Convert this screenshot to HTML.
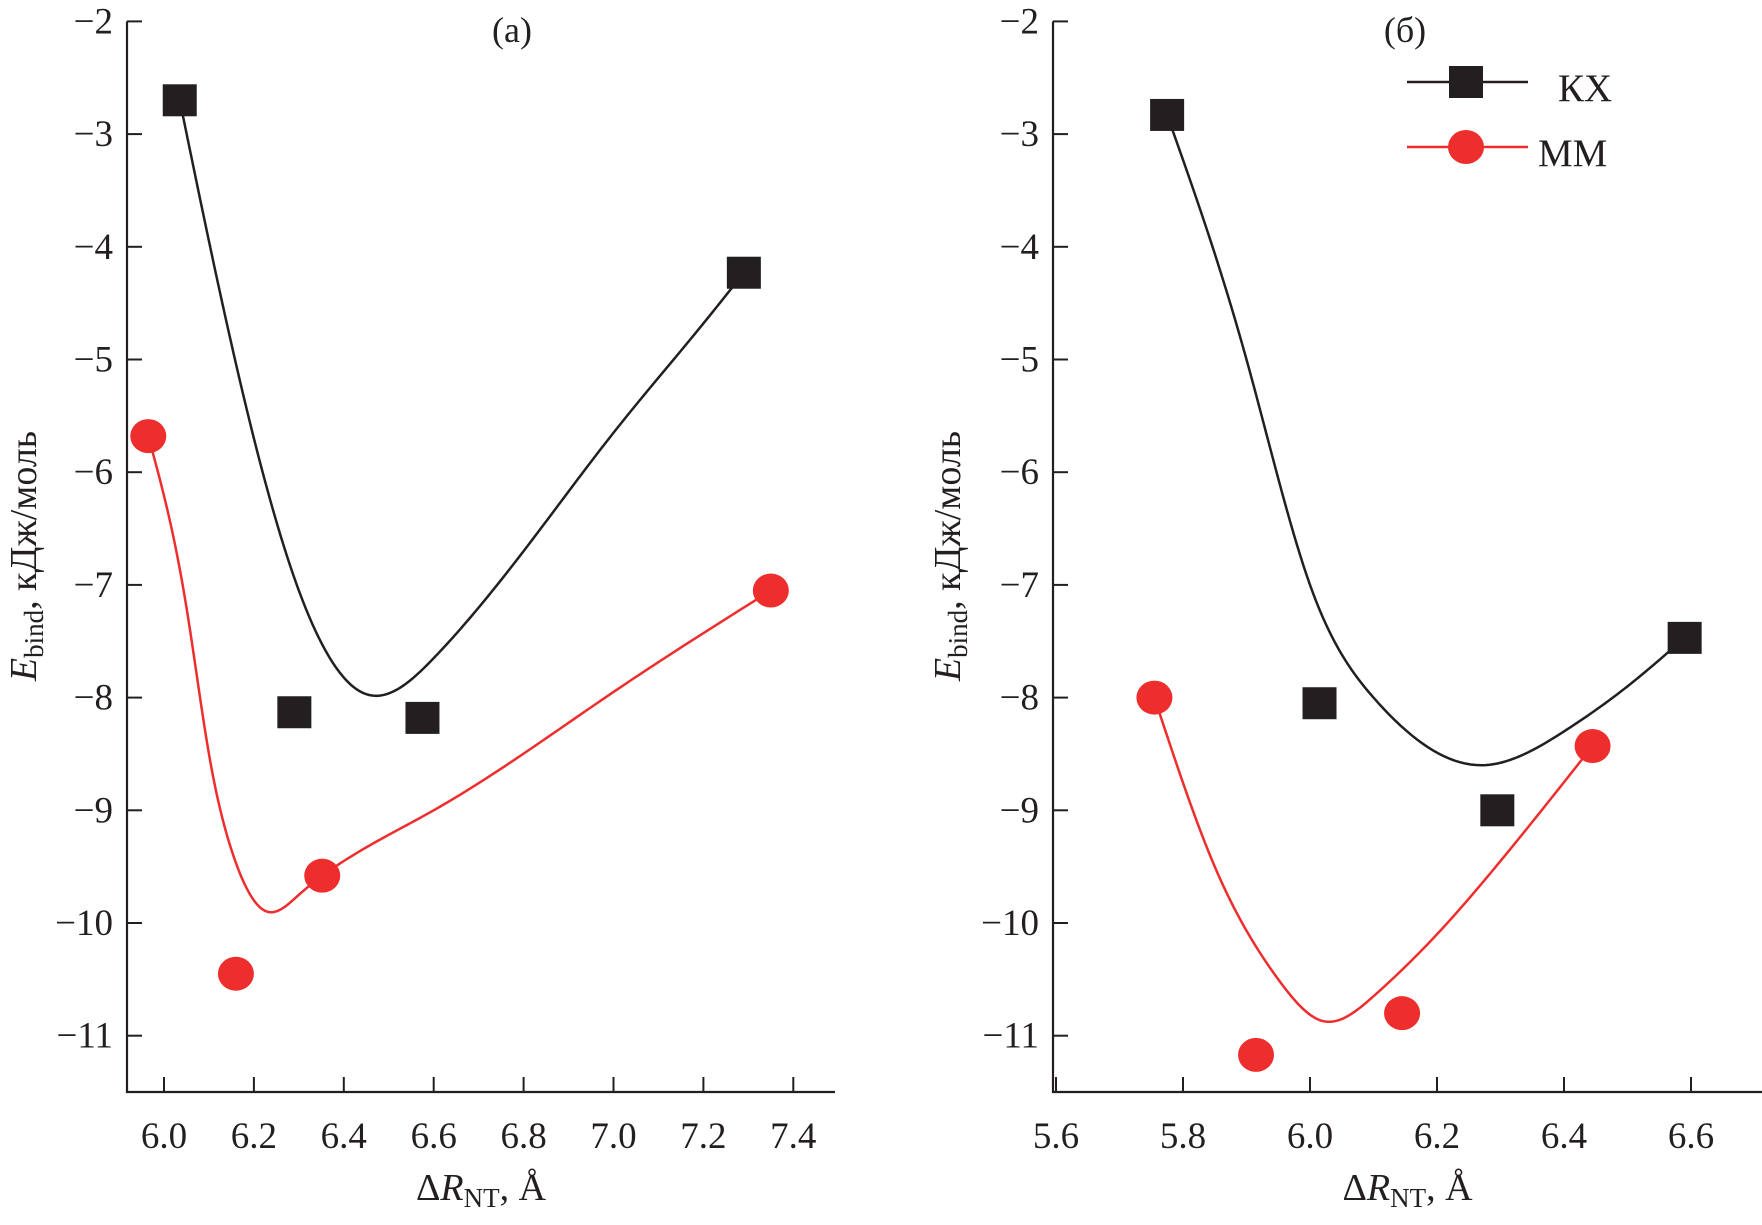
<!DOCTYPE html>
<html><head><meta charset="utf-8"><style>
html,body{margin:0;padding:0;background:#fff}
svg{display:block}
text{font-family:"Liberation Serif",serif;fill:#231f20}
</style></head><body>
<svg id="chart" width="1762" height="1225" viewBox="0 0 1762 1225" xmlns="http://www.w3.org/2000/svg"></svg>
<script>
// Panel (a) data
const aKxX=[6.035,6.29,6.575,7.29];
const aKxY=[-2.7,-8.13,-8.18,-4.23];
const aMmX=[5.965,6.16,6.352,7.35];
const aMmY=[-5.68,-10.45,-9.58,-7.05];
const aKxFitX=[6.035,6.1,6.2,6.3,6.45,6.6,6.8,7.0,7.2,7.29];
const aKxFitY=[-2.7,-3.95,-5.7,-7.05,-7.97,-7.65,-6.7,-5.65,-4.68,-4.23];
const aMmFitX=[5.965,6.05,6.1,6.15,6.23,6.3,6.4,6.6,7.0,7.35];
const aMmFitY=[-5.68,-7.2,-8.5,-9.35,-9.9,-9.75,-9.45,-9.0,-7.95,-7.05];
const aXTicks=[6.0,6.2,6.4,6.6,6.8,7.0,7.2,7.4];
// Panel (б) data
const bKxX=[5.775,6.015,6.295,6.59];
const bKxY=[-2.83,-8.05,-9.0,-7.47];
const bMmX=[5.755,5.915,6.145,6.445];
const bMmY=[-8.0,-11.17,-10.8,-8.43];
const bKxFitX=[5.775,5.9,6.0,6.1,6.27,6.4,6.5,6.59];
const bKxFitY=[-2.83,-5.0,-7.0,-8.0,-8.6,-8.3,-7.9,-7.47];
const bMmFitX=[5.755,5.85,5.95,6.02,6.1,6.2,6.3,6.445];
const bMmFitY=[-8.0,-9.5,-10.5,-10.87,-10.65,-10.1,-9.45,-8.43];
const bXTicks=[5.6,5.8,6.0,6.2,6.4,6.6];
const yTicks=[-2,-3,-4,-5,-6,-7,-8,-9,-10,-11];

const svg=document.getElementById('chart');
const NS='http://www.w3.org/2000/svg';
function mk(tag,attrs,parent){const e=document.createElementNS(NS,tag);for(const k in attrs)e.setAttribute(k,attrs[k]);(parent||svg).appendChild(e);return e;}
const Y=v=>21.4+(-2-v)*112.7;
const yBottom=1092;

function spline(xs,ys,X){
  const n=xs.length,h=[],a=[],l=[1],mu=[0],z=[0],c=new Array(n).fill(0),b=[],d=[];
  for(let i=0;i<n-1;i++)h[i]=xs[i+1]-xs[i];
  for(let i=1;i<n-1;i++)a[i]=3/h[i]*(ys[i+1]-ys[i])-3/h[i-1]*(ys[i]-ys[i-1]);
  for(let i=1;i<n-1;i++){l[i]=2*(xs[i+1]-xs[i-1])-h[i-1]*mu[i-1];mu[i]=h[i]/l[i];z[i]=(a[i]-h[i-1]*z[i-1])/l[i];}
  for(let j=n-2;j>=0;j--){c[j]=z[j]-mu[j]*c[j+1];b[j]=(ys[j+1]-ys[j])/h[j]-h[j]*(c[j+1]+2*c[j])/3;d[j]=(c[j+1]-c[j])/(3*h[j]);}
  let dStr='';
  for(let j=0;j<n-1;j++){
    for(let k=0;k<=20;k++){
      const t=h[j]*k/20,yv=ys[j]+b[j]*t+c[j]*t*t+d[j]*t*t*t;
      dStr+=(dStr?' L':'M')+X(xs[j]+t).toFixed(2)+','+Y(yv).toFixed(2);
    }
  }
  return dStr;
}

function panel(key,axisX,axisEnd,X,xTicks,title,titleX,ylabX,kx,kxy,mm,mmy,kfx,kfy,mfx,mfy){
  const g=mk('g',{});
  
  
  const ax=mk('path',{d:`M${axisX},21.4 V${yBottom} H${axisEnd}`,stroke:'#231f20','stroke-width':2.2,fill:'none'},g);
  
  
  yTicks.forEach(v=>{
    const y=Y(v);
    const t=mk('line',{x1:axisX,x2:axisX+15,y1:y,y2:y,stroke:'#231f20','stroke-width':2},g);
    
    
    const l=mk('text',{x:axisX-14,y:y+12,'text-anchor':'end','font-size':37},g);
    l.textContent='\u2212'+Math.abs(v);
    
    
  });
  xTicks.forEach(v=>{
    const x=X(v);
    const t=mk('line',{x1:x,x2:x,y1:yBottom,y2:yBottom-15,stroke:'#231f20','stroke-width':2},g);
    
    
    const l=mk('text',{x:x,y:1148,'text-anchor':'middle','font-size':37},g);
    l.textContent=v.toFixed(1);
    
    
  });
  const xt=mk('text',{x:(axisX+axisEnd)/2,y:1200,'text-anchor':'middle','font-size':38},g);
  xt.innerHTML='\u0394<tspan font-style="italic">R</tspan><tspan font-size="27" dy="7">NT</tspan><tspan dy="-7">, \u00C5</tspan>';
  
  
  const yt=mk('text',{x:0,y:0,'text-anchor':'middle','font-size':38,transform:`translate(${ylabX},556) rotate(-90)`},g);
  yt.innerHTML='<tspan font-style="italic">E</tspan><tspan font-size="27" dy="7">bind</tspan><tspan dy="-7">, кДж/моль</tspan>';
  
  
  const tt=mk('text',{x:titleX,y:42,'text-anchor':'middle','font-size':36},g);
  tt.textContent=title;
  
  
  const kc=mk('path',{d:spline(kfx,kfy,X),stroke:'#231f20','stroke-width':2.5,fill:'none'},g);
  
  
  const mc=mk('path',{d:spline(mfx,mfy,X),stroke:'#ee2d2d','stroke-width':2.5,fill:'none'},g);
  
  
  kx.forEach((x,i)=>{
    const r=mk('rect',{x:X(x)-17,y:Y(kxy[i])-16,width:34,height:32,fill:'#231f20'},g);
    
    
  });
  mm.forEach((x,i)=>{
    const c=mk('ellipse',{cx:X(x),cy:Y(mmy[i]),rx:18,ry:17,fill:'#ee2d2d'},g);
    
    
  });
}
const Xa=v=>164+(v-6.0)*449.5;
const Xb=v=>1056+(v-5.6)*635;
panel('a',127,835,Xa,aXTicks,'(a)',512,36,aKxX,aKxY,aMmX,aMmY,aKxFitX,aKxFitY,aMmFitX,aMmFitY);
panel('b',1053,1762,Xb,bXTicks,'(б)',1405,960,bKxX,bKxY,bMmX,bMmY,bKxFitX,bKxFitY,bMmFitX,bMmFitY);

const lg=mk('g',{});


const l1=mk('line',{x1:1407,x2:1528,y1:82,y2:82,stroke:'#231f20','stroke-width':2.5},lg);


const s1=mk('rect',{x:1449,y:66,width:34,height:32,fill:'#231f20'},lg);


const t1=mk('text',{x:1558,y:101,'font-size':39},lg);
t1.textContent='КХ';


const l2=mk('line',{x1:1407,x2:1528,y1:147,y2:147,stroke:'#ee2d2d','stroke-width':2.5},lg);


const s2=mk('ellipse',{cx:1466,cy:147,rx:18,ry:17,fill:'#ee2d2d'},lg);


const t2=mk('text',{x:1538,y:166,'font-size':39},lg);
t2.textContent='ММ';


</script>
</body></html>
